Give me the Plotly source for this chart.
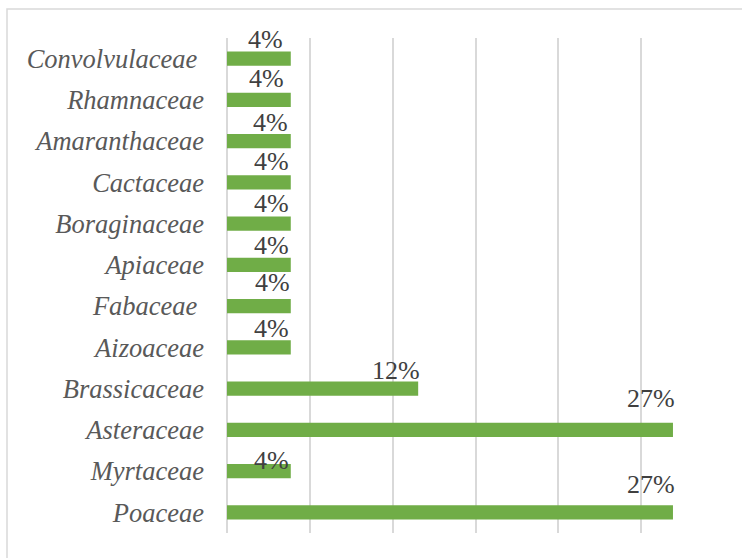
import plotly.graph_objects as go

categories = ["Poaceae", "Myrtaceae", "Asteraceae", "Brassicaceae", "Aizoaceae",
              "Fabaceae ", "Apiaceae", "Boraginaceae", "Cactaceae", "Amaranthaceae",
              "Rhamnaceae", "Convolvulaceae "]
values = [26.92, 3.85, 26.92, 11.54, 3.85, 3.85, 3.85, 3.85, 3.85, 3.85, 3.85, 3.85]
labels = [f"{round(v)}%" for v in values]

# label placement offsets (pixels) relative to bar end / bar centre
label_dy = [27.5, 11, 31, 18, 19, 24, 19, 20, 20.5, 19, 21, 19]
label_dx = [3, -1, 3, 3, -1, 0, -1, -1, -1, -2, -6, -7]

W, H = 742, 558
L, R, T, B = 227, 18, 38, 25

fig = go.Figure(go.Bar(
    x=values, y=categories, orientation="h",
    marker=dict(color="#70ad47", line=dict(width=0)),
    width=0.34, hoverinfo="skip",
))

for c, v, t, dy, dx in zip(categories, values, labels, label_dy, label_dx):
    fig.add_annotation(x=v, y=c, xref="x", yref="y", text=t, showarrow=False,
                       xanchor="right", yanchor="middle", xshift=dx + 1, yshift=dy,
                       font=dict(family="Liberation Serif", size=26, color="#404040"))

pw, ph = W - L - R, H - T - B
fig.add_shape(type="rect", xref="paper", yref="paper",
              x0=(7 - L) / pw, x1=(W + 5 - L) / pw,
              y0=(H - B - (H + 5)) / ph, y1=(H - B - 9) / ph,
              line=dict(color="#d9d9d9", width=1.5), layer="below")

fig.update_layout(
    width=W, height=H, margin=dict(l=L, r=R, t=T, b=B),
    paper_bgcolor="white", plot_bgcolor="white", showlegend=False,
    bargap=0.66,
    xaxis=dict(range=[0, 30], dtick=5, showgrid=True, gridcolor="#d9d9d9", gridwidth=1.5,
               showticklabels=False, zeroline=True, zerolinecolor="#d9d9d9", zerolinewidth=1.5,
               fixedrange=True),
    yaxis=dict(type="category", categoryorder="array", categoryarray=categories,
               range=[-0.5, len(categories) - 0.5], autorange=False,
               tickvals=categories, ticktext=[c.replace(" ", "\u00a0") for c in categories],
               showgrid=False, showline=False, ticks="", ticklabelstandoff=22,
               tickfont=dict(family="Liberation Serif", size=26.5, color="#595959", style="italic"),
               fixedrange=True),
)

fig.write_html("out.html")
